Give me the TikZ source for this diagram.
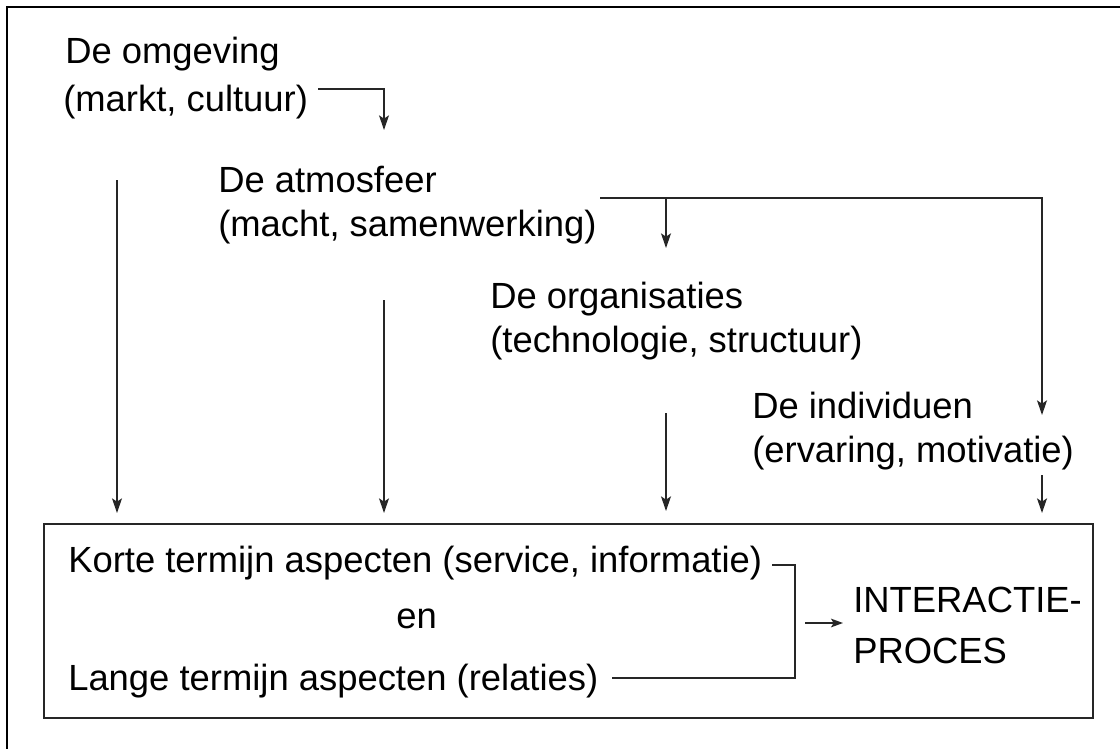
\documentclass[tikz,border=0pt]{standalone}
\usepackage{fontspec}
\setmainfont{Liberation Sans}
\usetikzlibrary{arrows.meta}
\begin{document}
\begin{tikzpicture}[x=0.75pt,y=-0.75pt,
  lbl/.style={anchor=base west,inner sep=0pt,font=\fontsize{27.3}{32}\selectfont},
  wire/.style={line width=1.1pt,draw=black!85},
  arr/.style={wire,-{Stealth[length=11pt,width=7.5pt,inset=2.5pt]}},
  frame/.style={line width=1.8pt}]
\useasboundingbox (0,0) rectangle (1120,749);

% outer frame (left and top edges)
\draw[frame] (7,749) -- (7,7) -- (1120,7);

% levels of the environment
\node[lbl] (omg)  at (65,64)   {De omgeving};
\node[lbl] (omg2) at (63,112)  {(markt, cultuur)};
\node[lbl] (atm)  at (218,192) {De atmosfeer};
\node[lbl] (atm2) at (218,236) {(macht, samenwerking)};
\node[lbl] (org)  at (490,308) {De organisaties};
\node[lbl] (org2) at (490,352) {(technologie, structuur)};
\node[lbl] (ind)  at (752,418) {De individuen};
\node[lbl] (ind2) at (752,462) {(ervaring, motivatie)};

% interaction box
\draw[wire] (44,524) rectangle (1093,718);
\node[lbl] (kort) at (68,572)  {Korte termijn aspecten (service, informatie)};
\node[lbl] (en)   at (396,628) {en};
\node[lbl] (lang) at (68,690)  {Lange termijn aspecten (relaties)};
\node[lbl] (ip1)  at (853,612) {INTERACTIE-};
\node[lbl] (ip2)  at (853,663) {PROCES};

% connector points
\coordinate (a0) at (318,89);
\coordinate (a1) at (384,89);
\coordinate (a2) at (384,130);
\coordinate (b0) at (600,198);
\coordinate (b1) at (666,198);
\coordinate (b2) at (666,248);
\coordinate (b3) at (1042,198);
\coordinate (b4) at (1042,415);
\coordinate (c1s) at (117,180);
\coordinate (c1e) at (117,513);
\coordinate (c2s) at (384,300);
\coordinate (c2e) at (384,513);
\coordinate (c3s) at (666,413);
\coordinate (c3e) at (666,511);
\coordinate (c4s) at (1042,475);
\coordinate (c4e) at (1042,513);
\coordinate (k0) at (772,565);
\coordinate (k1) at (795,565);
\coordinate (k2) at (795,678);
\coordinate (k3) at (612,678);
\coordinate (p0) at (805,623);
\coordinate (p1) at (843,623);

% influences between levels
\draw[arr] (a0) -- (a1) -- (a2);
\draw[arr] (b0) -- (b3) -- (b4);
\draw[arr] (b1) -- (b2);

% influences on the interaction
\draw[arr] (c1s) -- (c1e);
\draw[arr] (c2s) -- (c2e);
\draw[arr] (c3s) -- (c3e);
\draw[arr] (c4s) -- (c4e);

% bracket joining both aspects
\draw[wire] (k0) -- (k1) -- (k2) -- (k3);
\draw[wire,-{Stealth[length=9pt,width=6.5pt,inset=2pt]}] (p0) -- (p1);
\end{tikzpicture}
\end{document}
